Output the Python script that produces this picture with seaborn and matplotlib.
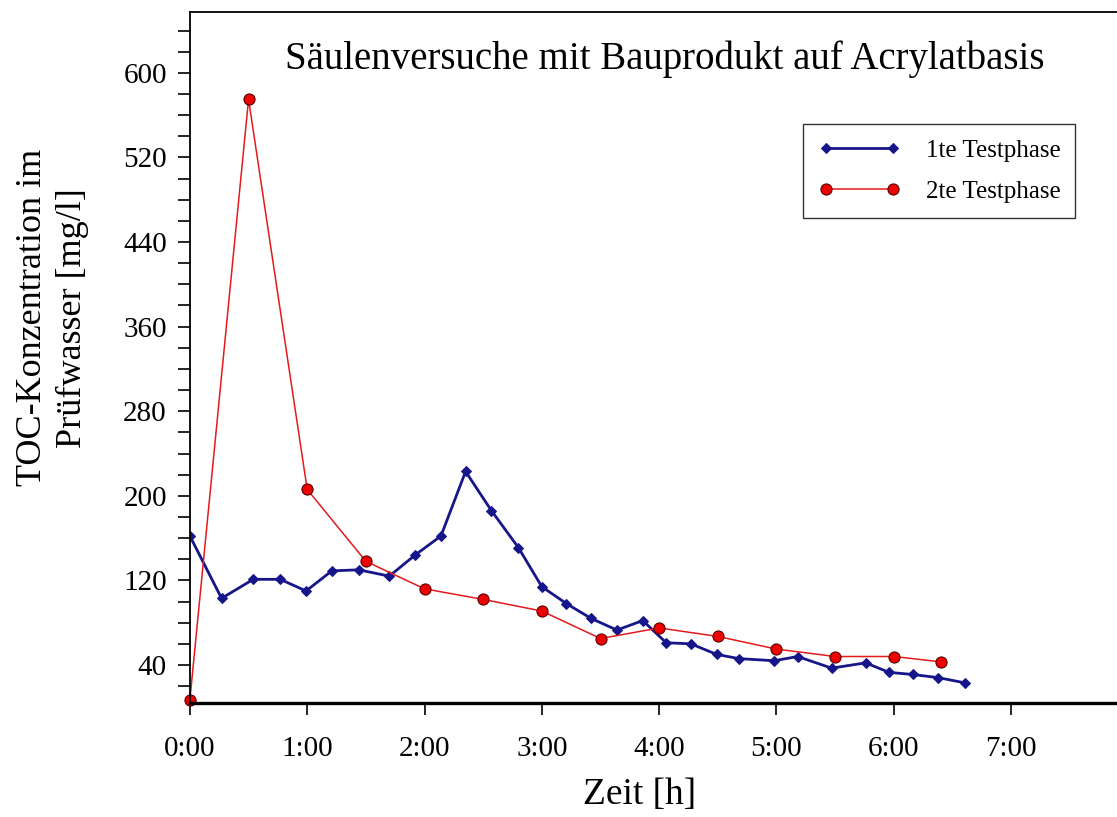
import numpy as np
import pandas as pd
import matplotlib
matplotlib.use("Agg")
import matplotlib.pyplot as plt
import seaborn as sns

# 1te Testphase (time in hours, TOC in mg/l)
t1 = [0.0, 0.27, 0.54, 0.77, 0.99, 1.21, 1.44, 1.70, 1.92, 2.14, 2.35, 2.57,
      2.80, 3.0, 3.21, 3.42, 3.64, 3.86, 4.06, 4.27, 4.49, 4.68, 4.98, 5.18,
      5.47, 5.76, 5.96, 6.16, 6.38, 6.61]
toc1 = [162, 103, 121, 121, 110, 129, 130, 124, 144, 162, 223, 186,
        151, 114, 98, 84, 73, 82, 61, 60, 50, 46, 44, 48,
        37, 42, 33, 31, 28, 23]

# 2te Testphase
t2 = [0.0, 0.5, 1.0, 1.5, 2.0, 2.5, 3.0, 3.5, 4.0, 4.5, 5.0, 5.5, 6.0, 6.4]
toc2 = [7, 575, 206, 138, 112, 102, 91, 65, 75, 67, 55, 48, 48, 43]

xticks = [0, 1, 2, 3, 4, 5, 6, 7]
xticklabels = ["0:00", "1:00", "2:00", "3:00", "4:00", "5:00", "6:00", "7:00"]
yticks = [40, 120, 200, 280, 360, 440, 520, 600]

df1 = pd.DataFrame({"t": t1, "toc": toc1})
df2 = pd.DataFrame({"t": t2, "toc": toc2})

sns.set_style("ticks")
plt.rcParams["font.family"] = ["Liberation Serif", "DejaVu Serif"]
plt.rcParams["text.color"] = "black"
plt.rcParams["xtick.color"] = "black"
plt.rcParams["ytick.color"] = "black"
plt.rcParams["xtick.labelcolor"] = "black"
plt.rcParams["ytick.labelcolor"] = "black"

fig = plt.figure(figsize=(11.17, 8.17), dpi=100)
ax = fig.add_axes([0.170, 0.1395, 0.835, 0.8457])

sns.lineplot(data=df1, x="t", y="toc", ax=ax, color="#16168a", linewidth=2,
             marker="D", markersize=5, markeredgecolor="#16168a",
             label="1te Testphase")
sns.lineplot(data=df2, x="t", y="toc", ax=ax, color="#e41a1c", linewidth=1.1,
             marker="o", markersize=8, markerfacecolor="#ee0000",
             markeredgecolor="#5a0000", markeredgewidth=0.8,
             label="2te Testphase", clip_on=False)

ax.set_xlim(0, 7.95)
ax.set_ylim(4, 657.5)
ax.set_xticks(xticks)
ax.set_xticklabels(xticklabels)
ax.set_yticks(yticks)
ax.set_yticks(np.arange(20, 660, 20), minor=True)
ax.tick_params(axis="both", which="both", direction="out", length=8.6,
               width=1.2, color="black")
ax.tick_params(axis="x", labelsize=21, pad=15)
ax.tick_params(axis="y", labelsize=21, pad=8)
ax.set_xlabel("")
ax.set_ylabel("")

for side in ["left", "top"]:
    ax.spines[side].set_linewidth(1.3)
    ax.spines[side].set_color("black")
ax.spines["bottom"].set_linewidth(2.4)
ax.spines["bottom"].set_color("black")
ax.spines["right"].set_visible(False)

fig.text(0.595, 0.927, "Säulenversuche mit Bauprodukt auf Acrylatbasis",
         ha="center", va="center", fontsize=28)
fig.text(0.573, 0.027, "Zeit [h]", ha="center", va="center", fontsize=27)
fig.text(0.047, 0.611, "TOC-Konzentration im\nPrüfwasser [mg/l]", ha="center",
         va="center", rotation=90, fontsize=26, linespacing=1.25)

leg = ax.legend(loc="upper left", bbox_to_anchor=(0.719, 0.848),
                bbox_transform=fig.transFigure, numpoints=2, fontsize=18,
                frameon=True, fancybox=False, edgecolor="black",
                handlelength=3.3, borderpad=0.6, labelspacing=0.75,
                handletextpad=1.0, borderaxespad=0)
leg.get_frame().set_linewidth(1.0)

fig.savefig("out.png", dpi=100)
